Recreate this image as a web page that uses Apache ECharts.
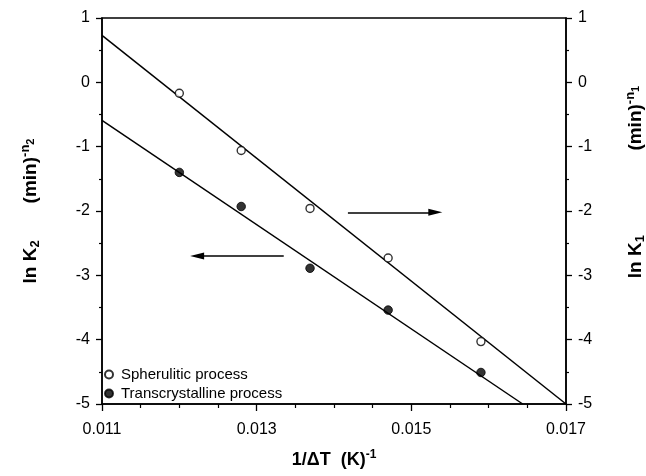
<!DOCTYPE html>
<html>
<head>
<meta charset="utf-8">
<script src="https://cdn.jsdelivr.net/npm/echarts@6/dist/echarts.min.js"></script>
<style>
  html, body { margin: 0; padding: 0; background: #fff; }
  #chart { width: 646px; height: 476px; }
</style>
</head>
<body>
<div id="chart"></div>
<script>
// Inverse undercooling 1/ΔT (K^-1) for each crystallization run
const invDeltaT = [0.01200, 0.01280, 0.01369, 0.01470, 0.01590];

// Spherulitic process: ln K1 (right axis)
const lnK1 = [-0.17, -1.06, -1.96, -2.73, -4.03];
// Transcrystalline process: ln K2 (left axis)
const lnK2 = [-1.40, -1.93, -2.89, -3.54, -4.51];

// Least-squares fit lines, given by their end points
const fitK1X = [0.0110, 0.0170];
const fitK1Y = [0.73, -5.00];
const fitK2X = [0.0110, 0.01644];
const fitK2Y = [-0.59, -5.00];

// Arrows pointing each data set to its axis: [x start, x of arrowhead centre, y]
const arrowToRight = [0.01418, 0.01531, -2.02];
const arrowToLeft = [0.01335, 0.01223, -2.70];

// Axis ranges and tick spacing
const xRange = [0.011, 0.017];
const xStep = 0.002;
const yRange = [-5, 1];
const yStep = 1;

const seriesNames = ['Spherulitic process', 'Transcrystalline process'];

const FONT = 'Liberation Sans, Arial, Helvetica, sans-serif';

const pairs = (xs, ys) => xs.map((x, i) => [x, ys[i]]);

const titleRich = {
  m:  { fontSize: 19, fontWeight: 'bold', fontFamily: FONT, color: '#000', lineHeight: 23, verticalAlign: 'middle' },
  sb: { fontSize: 13, fontWeight: 'bold', fontFamily: FONT, color: '#000', verticalAlign: 'bottom' },
  sp: { fontSize: 13, fontWeight: 'bold', fontFamily: FONT, color: '#000', verticalAlign: 'top' },
  ss: { fontSize: 11, fontWeight: 'bold', fontFamily: FONT, color: '#000', verticalAlign: 'middle' }
};

const xTitleRich = {
  m:  { fontSize: 18, fontWeight: 'bold', fontFamily: FONT, color: '#000', lineHeight: 22, verticalAlign: 'middle' },
  sp: { fontSize: 12, fontWeight: 'bold', fontFamily: FONT, color: '#000', verticalAlign: 'top' }
};

const axisLine = { show: true, onZero: false, lineStyle: { color: '#000', width: 1.5 } };
const tickLabel = { color: '#000', fontSize: 16, fontFamily: FONT };

function yAxisDef(position, name, gap, padding) {
  return {
    type: 'value',
    position: position,
    min: yRange[0],
    max: yRange[1],
    interval: yStep,
    name: name,
    nameLocation: 'middle',
    nameRotate: 90,
    nameGap: gap,
    nameTextStyle: { rich: titleRich, padding: padding },
    axisLine: axisLine,
    axisTick: { show: true, length: 6, inside: false, lineStyle: { color: '#000', width: 1.3 } },
    minorTick: { show: true, splitNumber: 2, length: 3, lineStyle: { color: '#000', width: 1.2 } },
    axisLabel: Object.assign({ margin: 12, formatter: v => String(Math.round(v)) }, tickLabel),
    splitLine: { show: false }
  };
}

const chart = echarts.init(document.getElementById('chart'), null, { renderer: 'canvas' });

chart.setOption({
  animation: false,
  backgroundColor: '#fff',
  grid: {
    left: 102, right: 80, top: 18, bottom: 72,
    outerBoundsMode: 'none',
    containLabel: false,
    show: true, borderColor: '#000', borderWidth: 1.5, backgroundColor: 'transparent'
  },
  legend: {
    data: seriesNames,
    orient: 'vertical',
    left: 99,
    top: 362,
    itemWidth: 8,
    itemHeight: 8,
    itemGap: 4,
    selectedMode: false,
    textStyle: { color: '#000', fontSize: 15, fontFamily: FONT, lineHeight: 14, padding: [0, 0, 0, 3] }
  },
  xAxis: {
    type: 'value',
    min: xRange[0],
    max: xRange[1],
    interval: xStep,
    name: '{m|1/ΔT  (K)}{sp|-1}',
    nameLocation: 'middle',
    nameGap: 45,
    nameTextStyle: { rich: xTitleRich },
    axisLine: axisLine,
    axisTick: { show: true, length: 7, lineStyle: { color: '#000', width: 1.3 } },
    minorTick: { show: true, splitNumber: 4, length: 4, lineStyle: { color: '#000', width: 1.2 } },
    axisLabel: Object.assign({ margin: 18, formatter: v => v.toFixed(3) }, tickLabel),
    splitLine: { show: false }
  },
  yAxis: [
    yAxisDef('left', '{m|ln K}{sb|2}{m|       (min)}{sp|-n}{ss|2}', 60, [0, 0, 0, 0]),
    yAxisDef('right', '{m|ln K}{sb|1}{m|                (min)}{sp|-n}{ss|1}', 58, [0, 0, 0, 58])
  ],
  series: [
    {
      name: seriesNames[0],
      type: 'scatter',
      yAxisIndex: 1,
      symbol: 'circle',
      symbolSize: 8,
      itemStyle: { color: '#fff', borderColor: '#000', borderWidth: 1.4 },
      data: pairs(invDeltaT, lnK1),
      z: 5,
      markLine: {
        silent: true,
        symbol: ['none', 'triangle'],
        symbolSize: [7, 14],
        label: { show: false },
        lineStyle: { color: '#000', width: 1.5, type: 'solid' },
        data: [[
          { coord: [arrowToRight[0], arrowToRight[2]] },
          { coord: [arrowToRight[1], arrowToRight[2]] }
        ]]
      }
    },
    {
      name: seriesNames[1],
      type: 'scatter',
      yAxisIndex: 0,
      symbol: 'circle',
      symbolSize: 8.5,
      itemStyle: { color: '#000', borderColor: '#000', borderWidth: 1 },
      data: pairs(invDeltaT, lnK2),
      z: 5,
      markLine: {
        silent: true,
        symbol: ['none', 'triangle'],
        symbolSize: [7, 14],
        label: { show: false },
        lineStyle: { color: '#000', width: 1.5, type: 'solid' },
        data: [[
          { coord: [arrowToLeft[0], arrowToLeft[2]] },
          { coord: [arrowToLeft[1], arrowToLeft[2]] }
        ]]
      }
    },
    {
      name: 'fit K1',
      type: 'line',
      yAxisIndex: 1,
      showSymbol: false,
      symbol: 'none',
      lineStyle: { color: '#000', width: 1.5 },
      data: pairs(fitK1X, fitK1Y),
      z: 3
    },
    {
      name: 'fit K2',
      type: 'line',
      yAxisIndex: 0,
      showSymbol: false,
      symbol: 'none',
      lineStyle: { color: '#000', width: 1.5 },
      data: pairs(fitK2X, fitK2Y),
      z: 3
    }
  ]
});
</script>
</body>
</html>
